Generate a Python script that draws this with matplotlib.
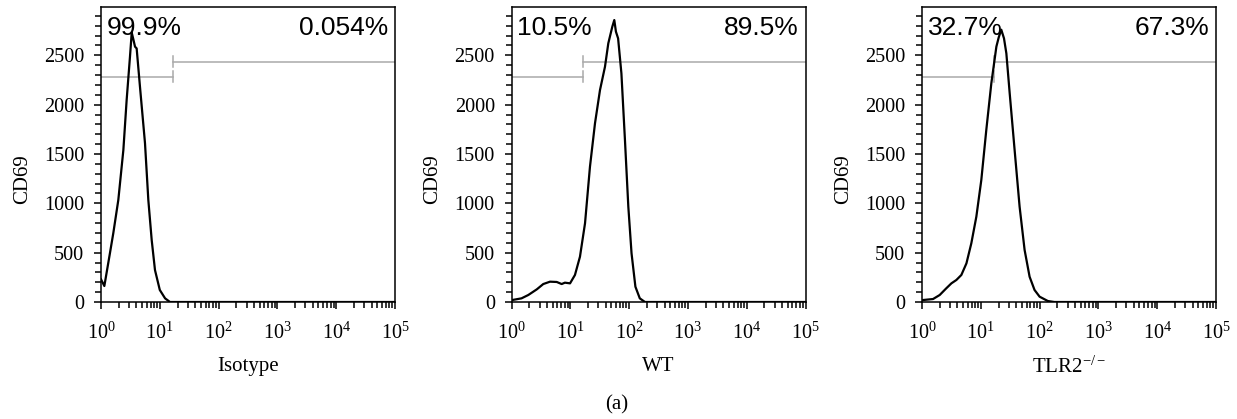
import matplotlib
matplotlib.use('Agg')
import matplotlib.pyplot as plt
from matplotlib.ticker import MultipleLocator, LogLocator, LogFormatterMathtext, NullFormatter

plt.rcParams['font.family'] = ['Liberation Serif', 'DejaVu Serif']
plt.rcParams['mathtext.fontset'] = 'stix'

# ---- data (fluorescence, count) ----
iso_x = [1.0, 1.14, 1.42, 1.62, 1.97, 2.4, 2.73, 3.11, 3.33, 3.55, 3.79, 4.04,
         4.6, 5.6, 6.38, 7.28, 8.28, 10.0, 12.3, 14.9, 1e5]
iso_y = [230, 162, 496, 699, 1034, 1540, 2047, 2486, 2730, 2662, 2588, 2570,
         2182, 1610, 1034, 628, 324, 122, 37, 0, 0]

wt_x = [1.0, 1.03, 1.48, 1.93, 2.69, 3.47, 4.52, 5.88, 7.13, 8.1, 9.9, 12.0,
        14.6, 17.8, 21.6, 26.3, 32.0, 38.9, 44.3, 51.8, 56.0, 59.7, 65.0,
        74.0, 85.0, 97.0, 110.0, 128.0, 152.0, 186.0, 1e5]
wt_y = [15, 20, 37, 71, 128, 182, 206, 203, 182, 196, 189, 274,
        459, 798, 1371, 1811, 2149, 2385, 2622, 2790, 2858, 2740, 2672,
        2317, 1642, 966, 494, 155, 37, 0, 0]

ko_x = [1.0, 1.04, 1.54, 2.0, 2.59, 3.16, 3.84, 4.67, 5.7, 6.9, 8.4, 10.2,
        12.4, 15.1, 18.4, 20.2, 22.3, 24.8, 27.2, 31.0, 37.6, 45.7, 55.6,
        67.6, 82.0, 100.0, 138.0, 178.0, 1e5]
ko_y = [15, 20, 30, 71, 139, 189, 223, 274, 392, 595, 865, 1236,
        1743, 2216, 2588, 2683, 2760, 2672, 2520, 2115, 1540, 966, 527,
        256, 122, 54, 10, 0, 0]

x_labels = ['Isotype', 'WT', r'TLR2$^{\mathregular{-/-}}$']
left_pct = ['99.9%', '10.5%', '32.7%']
right_pct = ['0.054%', '89.5%', '67.3%']

gate_x = 16.6
gate_left_y = 2283
gate_right_y = 2435

fig = plt.figure(figsize=(12.37, 4.19), dpi=100)
lefts = [101 / 1237, 511.5 / 1237, 922 / 1237]
curves = [(iso_x, iso_y), (wt_x, wt_y), (ko_x, ko_y)]

for i, (xs, ys) in enumerate(curves):
    ax = fig.add_axes([lefts[i], 1 - 302 / 419, 294 / 1237, 295 / 419])
    ax.set_xscale('log')
    ax.set_xlim(1, 1e5)
    ax.set_ylim(0, 2990)

    # gates
    gc = '#aaaaaa'
    ax.plot([1, gate_x], [gate_left_y, gate_left_y], color=gc, lw=1.1, zorder=1)
    ax.plot([gate_x, gate_x], [2230, 2340], color=gc, lw=1.1, zorder=1)
    ax.plot([gate_x, 1e5], [gate_right_y, gate_right_y], color=gc, lw=1.1, zorder=1)
    ax.plot([gate_x, gate_x], [2385, 2490], color=gc, lw=1.1, zorder=1)

    ax.plot(xs, ys, color='black', lw=1.6, zorder=3)

    ax.yaxis.set_major_locator(MultipleLocator(500))
    ax.yaxis.set_minor_locator(MultipleLocator(100))
    ax.xaxis.set_major_locator(LogLocator(base=10, numticks=10))
    ax.xaxis.set_minor_locator(LogLocator(base=10, subs=range(2, 10), numticks=20))
    ax.xaxis.set_major_formatter(LogFormatterMathtext())
    ax.xaxis.set_minor_formatter(NullFormatter())
    ax.tick_params(which='both', direction='out', top=False, right=False,
                   labelsize=14.6, width=1.1)
    ax.tick_params(which='major', length=5, pad=7)
    ax.tick_params(axis='x', which='major', pad=10)
    ax.tick_params(which='minor', length=4.5)
    for s in ax.spines.values():
        s.set_linewidth(1.1)

    ax.set_ylabel('CD69', fontsize=15)
    ax.yaxis.set_label_coords(-0.235, 0.417)
    ax.set_xlabel(x_labels[i], fontsize=15, labelpad=9)

    ax.text(0.02, 0.905, left_pct[i], transform=ax.transAxes, fontsize=19,
            family='Liberation Sans', ha='left', va='baseline', zorder=4)
    ax.text(0.978, 0.905, right_pct[i], transform=ax.transAxes, fontsize=19,
            family='Liberation Sans', ha='right', va='baseline', zorder=4)

fig.text(617 / 1237, 1 - 405 / 419, '(a)', ha='center', va='center', fontsize=15)

fig.savefig('out.png', dpi=100)
